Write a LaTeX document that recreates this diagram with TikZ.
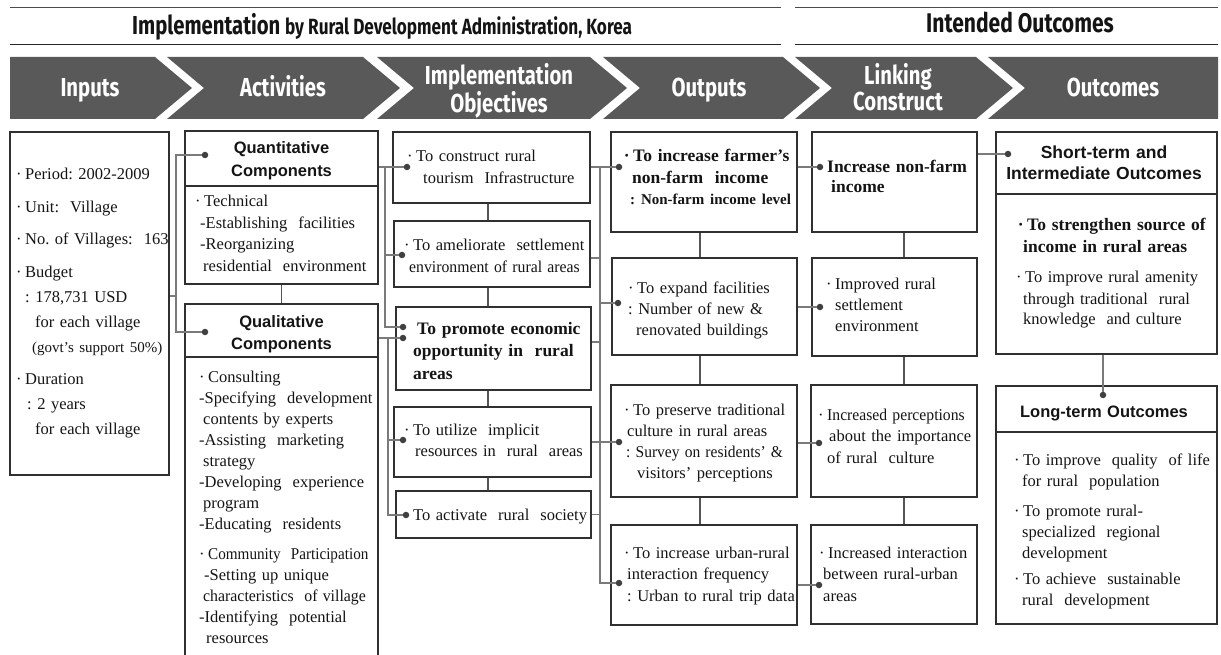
\documentclass[tikz,border=0pt]{standalone}
\usepackage{fontspec}
\usepackage{graphicx}
\setmainfont{Liberation Serif}
\setsansfont{Liberation Sans}
\newfontfamily\headfont[FakeStretch=0.78]{Fira Sans}
\usetikzlibrary{fit}
\definecolor{chev}{HTML}{595959}
\definecolor{boxc}{HTML}{303030}
\definecolor{connc}{HTML}{7A7A7A}
\definecolor{vconnc}{HTML}{555555}
\definecolor{dotc}{HTML}{404040}
\definecolor{txtc}{HTML}{141414}
\newcommand\bul{\leavevmode\llap{·\hspace{3.5pt}}}
\newcommand\myind[1]{\leavevmode\hspace*{#1pt}}
\newcommand\cnd[2]{\scalebox{#1}[1]{#2}}
\begin{document}
\frenchspacing
\begin{tikzpicture}[x=1pt,y=-1pt,
  box/.style={draw=boxc,line width=1.1pt,inner sep=0pt},
  divline/.style={draw=boxc,line width=1.4pt},
  conn/.style={draw=connc,line width=1.2pt},
  vconn/.style={draw=vconnc,line width=1.2pt},
  dotn/.style={circle,fill=dotc,inner sep=0pt,minimum size=6.5pt},
  body/.style={anchor=base west,inner sep=0pt,align=left,text width=200pt,text=txtc,font=\fontsize{16.5}{21.5}\selectfont},
  bodyb/.style={body,font=\bfseries\fontsize{17.5}{22.5}\selectfont},
  head/.style={anchor=base,inner sep=0pt,align=center,text width=220pt,text=txtc,font=\sffamily\bfseries\fontsize{16.5}{22.5}\selectfont},
  chevtxt/.style={anchor=base,inner sep=0pt,align=center,text width=200pt,text=white,font=\headfont\bfseries\fontsize{26}{24}\selectfont},
  hline/.style={draw=black!70,line width=1pt}]
\useasboundingbox (0,0) rectangle (1221,655);

% ---------- header ----------
\draw[hline] (10,7.5) -- (781,7.5);
\draw[hline,draw=black!85] (10,45) -- (781,45);
\draw[hline] (795,7.5) -- (1218,7.5);
\draw[hline,draw=black!85] (795,45) -- (1218,45);
\node[anchor=base west,inner sep=0pt,text=txtc,font=\headfont\bfseries] (hdl) at (132,35)
  {\fontsize{26}{26}\selectfont Implementation {\fontsize{22}{22}\selectfont by Rural Development Administration, Korea}};
\node[anchor=base,inner sep=0pt,text=txtc,font=\headfont\bfseries\fontsize{27}{27}\selectfont] (hdr) at (1020,33) {Intended Outcomes};

% ---------- chevrons ----------
\fill[chev] (10,57) -- (155,57) -- (192,88) -- (155,119) -- (10,119) -- cycle;
\fill[chev] (167,57) -- (363,57) -- (400,88) -- (363,119) -- (167,119) -- (204,88) -- cycle;
\fill[chev] (377,57) -- (590,57) -- (627,88) -- (590,119) -- (377,119) -- (414,88) -- cycle;
\fill[chev] (603,57) -- (783,57) -- (820,88) -- (783,119) -- (603,119) -- (640,88) -- cycle;
\fill[chev] (795,57) -- (976,57) -- (1013,88) -- (976,119) -- (795,119) -- (832,88) -- cycle;
\fill[chev] (988,57) -- (1218,57) -- (1218,119) -- (988,119) -- (1025,88) -- cycle;
\node[chevtxt] (c1) at (90,97) {Inputs};
\node[chevtxt] (c2) at (283,97) {Activities};
\node[chevtxt] (c3) at (499,85) {Implementation\\Objectives};
\node[chevtxt] (c4) at (709,97) {Outputs};
\node[chevtxt] (c5) at (898,85) {Linking\\Construct};
\node[chevtxt] (c6) at (1113,97) {Outcomes};

% ---------- boxes ----------
\node[box,fit={(10,132)(169,475)}] (inp) {};
\node[box,fit={(185,131)(378,284)}] (quant) {};
\node[box,fit={(185,304)(378,662)}] (qual) {};
\node[box,fit={(393,132)(590,203)}] (obj1) {};
\node[box,fit={(394,221)(590,287)}] (obj2) {};
\node[box,fit={(396,307)(591,390)}] (obj3) {};
\node[box,fit={(394,407)(591,477)}] (obj4) {};
\node[box,fit={(396,491)(591,538)}] (obj5) {};
\node[box,fit={(611,132)(797,232)}] (out1) {};
\node[box,fit={(612,258)(797,355)}] (out2) {};
\node[box,fit={(611,385)(797,497)}] (out3) {};
\node[box,fit={(611,525)(797,625)}] (out4) {};
\node[box,fit={(812,132)(977,232)}] (lk1) {};
\node[box,fit={(812,258)(977,356)}] (lk2) {};
\node[box,fit={(811,385)(977,497)}] (lk3) {};
\node[box,fit={(811,525)(977,624)}] (lk4) {};
\node[box,fit={(996,132)(1217,354)}] (short) {};
\node[box,fit={(996,386)(1217,624)}] (long) {};
\coordinate (dv1) at (0,186);
\coordinate (dv2) at (0,357);
\coordinate (dv3) at (0,194);
\coordinate (dv4) at (0,432);
\draw[divline] (quant.west |- dv1) -- (quant.east |- dv1);
\draw[divline] (qual.west |- dv2) -- (qual.east |- dv2);
\draw[divline] (short.west |- dv3) -- (short.east |- dv3);
\draw[divline] (long.west |- dv4) -- (long.east |- dv4);

% ---------- in-column links ----------
\coordinate (cxo) at (488,0);
\coordinate (cxp) at (700,0);
\coordinate (cxk) at (904,0);
\draw[vconn] (quant.south) -- (qual.north);
\draw[vconn] (obj1.south -| cxo) -- (obj2.north -| cxo);
\draw[vconn] (obj2.south -| cxo) -- (obj3.north -| cxo);
\draw[vconn] (obj3.south -| cxo) -- (obj4.north -| cxo);
\draw[vconn] (obj4.south -| cxo) -- (obj5.north -| cxo);
\draw[vconn] (out1.south -| cxp) -- (out2.north -| cxp);
\draw[vconn] (out2.south -| cxp) -- (out3.north -| cxp);
\draw[vconn] (out3.south -| cxp) -- (out4.north -| cxp);
\draw[vconn] (lk1.south -| cxk) -- (lk2.north -| cxk);
\draw[vconn] (lk2.south -| cxk) -- (lk3.north -| cxk);
\draw[vconn] (lk3.south -| cxk) -- (lk4.north -| cxk);

% ---------- dots ----------
\node[dotn] (dq) at (205,155) {};
\node[dotn] (dl) at (205,332) {};
\node[dotn] (do1) at (407,167) {};
\node[dotn] (do2) at (402,255) {};
\node[dotn] (do3a) at (403,327) {};
\node[dotn] (do3b) at (403,338) {};
\node[dotn] (do4) at (403,440) {};
\node[dotn] (do5) at (406,515) {};
\node[dotn] (dp1) at (619,167) {};
\node[dotn] (dp2) at (618,303) {};
\node[dotn] (dp3) at (619,442) {};
\node[dotn] (dp4) at (619,583) {};
\node[dotn] (dk1) at (820,167) {};
\node[dotn] (dk2) at (820,307) {};
\node[dotn] (dk3) at (819,443) {};
\node[dotn] (dk4) at (819,585) {};
\node[dotn] (ds) at (1008,154) {};
\node[dotn] (dlg) at (1103,395) {};

% ---------- connectors ----------
\coordinate (jin) at (176,296);
\draw[conn] (inp.east |- jin) -- (jin);
\draw[conn] (dq) -| (jin);
\draw[conn] (dl) -| (jin);

\coordinate (jq) at (385,167);
\draw[conn] (quant.east |- jq) -- (do1);
\draw[conn] (do2) -| (jq);
\draw[conn] (do3a) -| (jq);

\coordinate (jl) at (388,338);
\draw[conn] (qual.east |- jl) -- (do3b);
\draw[conn] (do4) -| (jl);
\draw[conn] (do5) -| (jl);

\coordinate (jo) at (600,167);
\draw[conn] (obj1.east |- jo) -- (dp1);
\draw[conn] (dp4) -| (jo);
\draw[conn] (dp2) -- (dp2 -| jo);
\draw[conn] (dp3) -- (dp3 -| jo);
\draw[conn] ([yshift=-4pt]obj2.east) -- ([yshift=-4pt]obj2.east -| jo);
\draw[conn] ([yshift=6.5pt]obj3.east) -- ([yshift=6.5pt]obj3.east -| jo);
\draw[conn] (obj4.east) -- (obj4.east -| jo);
\draw[conn] (obj5.east) -- (obj5.east -| jo);

\draw[conn] (out1.east |- dk1) -- (dk1);
\draw[conn] (out2.east |- dk2) -- (dk2);
\draw[conn] (out3.east |- dk3) -- (dk3);
\draw[conn] (out4.east |- dk4) -- (dk4);

\draw[conn] (lk1.east |- ds) -- (ds);
\draw[conn] (short.south -| dlg) -- (dlg);

% ---------- texts ----------
\node[body,font=\fontsize{16.5}{25}\selectfont] (inpt) at (25,180)
 {\bul Period: 2002-2009\\[7.5pt]
  \bul Unit:\ \ Village\\[7.5pt]
  \bul No. of Villages:\ \ 163\\[7.5pt]
  \bul Budget\\
  \myind{0}: 178,731 USD\\
  \myind{10}for each village\\
  \myind{7}{\fontsize{15}{25}\selectfont (govt’s support 50\%)}\\[7.5pt]
  \bul Duration\\
  \myind{2}: 2 years\\
  \myind{10}for each village};

\node[head] (quanth) at (281.5,154) {Quantitative\\Components};
\node[body] (quantt) at (204,207)
 {\bul Technical\\
  \myind{-4}-Establishing\ \ facilities\\
  \myind{-4}-Reorganizing\\
  \myind{-1}residential\ \ environment};

\node[head,font=\sffamily\bfseries\fontsize{16.5}{22}\selectfont] (qualh) at (281.5,327) {Qualitative\\Components};
\node[body,font=\fontsize{16.5}{21}\selectfont] (qualt) at (208,382)
 {\bul Consulting\\
  \myind{-9}-Specifying\ \ development\\
  \myind{-5}contents by experts\\
  \myind{-9}-Assisting\ \ marketing\\
  \myind{-5}strategy\\
  \myind{-9}-Developing\ \ experience\\
  \myind{-5}program\\
  \myind{-9}-Educating\ \ residents\\[9pt]
  \bul \cnd{0.92}{Community\ \ Participation}\\
  \myind{-4}-Setting up unique\\
  \myind{-5}\cnd{0.96}{characteristics\ \ of village}\\
  \myind{-9}-Identifying\ \ potential\\
  \myind{-2}resources};

\node[body] (obj1t) at (416,162) {\bul To construct rural\\ \myind{7}tourism\ \ Infrastructure};
\node[body] (obj2t) at (413,251) {\bul To ameliorate\ \ settlement\\ \myind{-4}\cnd{0.955}{environment of rural areas}};
\node[bodyb] (obj3t) at (417,334) {To promote economic\\ \myind{-4}opportunity in\ \ rural\\ \myind{-4}areas};
\node[body] (obj4t) at (413,435) {\bul To utilize\ \ implicit\\ \myind{2}resources in\ \ rural\ \ areas};
\node[body] (obj5t) at (413,520) {To activate\ \ rural\ \ society};

\node[bodyb,font=\bfseries\fontsize{17.5}{21.5}\selectfont] (out1t) at (633,162)
 {\bul To increase farmer’s\\ \myind{-1}non-farm\ \ income\\ \myind{-3}{\fontsize{15}{21.5}\selectfont : Non-farm income level}};
\node[body] (out2t) at (637,293) {\bul To expand facilities\\ \myind{-9}: Number of new \&\\ \myind{-1}renovated buildings};
\node[body,font=\fontsize{16.5}{21.3}\selectfont] (out3t) at (633,415)
 {\bul To preserve traditional\\ \myind{-6}culture in rural areas\\ \myind{-7}\cnd{0.94}{: Survey on residents’ \&}\\ \myind{4}visitors’ perceptions};
\node[body] (out4t) at (633,558) {\bul To increase urban-rural\\ \myind{-6}interaction frequency\\ \myind{-6}: Urban to rural trip data};

\node[bodyb,font=\bfseries\fontsize{17.5}{20}\selectfont] (lk1t) at (827,173) {Increase non-farm\\ \myind{4}income};
\node[body] (lk2t) at (835,289) {\bul Improved rural\\ settlement\\ environment};
\node[body] (lk3t) at (827,420) {\bul \cnd{0.95}{Increased perceptions}\\ \myind{2}about the importance\\ of rural\ \ culture};
\node[body] (lk4t) at (828,558) {\bul Increased interaction\\ \myind{-5}between rural-urban\\ \myind{-5}areas};

\node[head,font=\sffamily\bfseries\fontsize{17.5}{21}\selectfont] (shorth) at (1104,159) {Short-term and\\Intermediate Outcomes};
\node[bodyb,font=\bfseries\fontsize{17.5}{21}\selectfont] (shortb) at (1027,231) {\bul To strengthen source of\\ \myind{-4}income in rural areas};
\node[body,font=\fontsize{16.5}{21}\selectfont] (shortt) at (1025,283)
 {\bul To improve rural amenity\\ \myind{-2}through traditional\ \ rural\\ \myind{-2}knowledge\ \ and culture};

\node[head] (longh) at (1104,417) {Long-term Outcomes};
\node[body,font=\fontsize{16.5}{21}\selectfont] (longt) at (1023,465)
 {\bul To improve\ \ quality\ \ of life\\
  \myind{-1}for rural\ \ population\\[9pt]
  \bul To promote rural-\\
  \myind{-1}specialized\ \ regional\\
  \myind{-1}development\\[5pt]
  \bul To achieve\ \ sustainable\\
  \myind{-1}rural\ \ development};
\end{tikzpicture}
\end{document}
